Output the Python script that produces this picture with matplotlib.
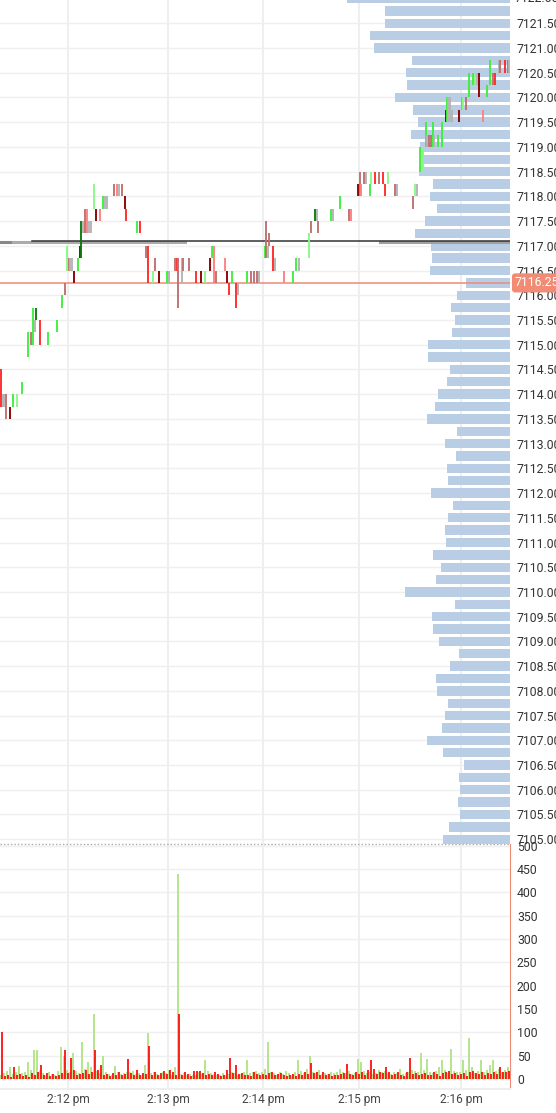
import numpy as np
import matplotlib
matplotlib.use("Agg")
import matplotlib.pyplot as plt
import matplotlib.transforms as mtransforms

plt.rcParams['font.family'] = ['Roboto', 'DejaVu Sans']

# ---- time axis (tick-sequence position) ----
time_ticks = [68, 168, 263, 359, 461]
time_labels = ['2:12 pm', '2:13 pm', '2:14 pm', '2:15 pm', '2:16 pm']
seq_max = 510

# ---- range candles: position, low, high, colour code ----
c_t = [0.8, 2.5, 3.8, 5.8, 9.7, 13.3, 16.7, 22.3, 27.5, 30.8, 33, 34.7, 36.2, 40.2, 47.8, 56.5,
       61.7, 65, 66.8, 68.5, 70, 71.7, 74, 77.8, 79.5, 81.3, 83, 85, 86.7, 89, 90.5, 94, 95.5,
       100, 103, 105, 107, 114, 116.5, 119, 121.5, 124.5, 126, 137, 140, 146, 148, 153, 155,
       158.5, 167.3, 169, 175, 176.5, 178, 181.5, 183, 188.8, 196, 201, 205, 210, 212, 213.8,
       216, 225, 226.5, 228.5, 232, 235.8, 238, 246.5, 251, 253.7, 257, 259, 264.7, 266.2,
       267.5, 268.8, 273.3, 275, 284, 293, 296, 299, 309, 311, 315, 316.5, 318, 331, 332.5,
       339.5, 349, 351, 357.7, 359.7, 361, 364, 366, 369.7, 371, 375, 379, 382.5, 384.5, 388,
       395, 397, 413, 415, 416.5, 420, 421.5, 423, 425.7, 427, 429, 431, 432.7, 434, 438,
       441.7, 445.5, 446.7, 448, 450, 452, 459.3, 461.5, 463, 466, 468.5, 473.3, 474.7, 476.7,
       479.3, 482.7, 486.5, 490, 493.3, 494.5, 498.7, 500.3, 504.7, 508, 509.3]
c_lo = [7113.75, 7113.75, 7113.75, 7113.5, 7113.5, 7113.75, 7113.75, 7114.0, 7114.75, 7115.0,
        7115.0, 7115.25, 7115.5, 7115.0, 7115.0, 7115.25, 7115.75, 7116.0, 7116.5, 7116.5,
        7116.5, 7116.5, 7116.25, 7116.5, 7116.75, 7116.75, 7117.25, 7117.25, 7117.25, 7117.25,
        7117.25, 7117.75, 7117.5, 7117.5, 7117.75, 7117.75, 7117.75, 7118.0, 7118.0, 7118.0,
        7118.0, 7117.75, 7117.5, 7117.25, 7117.25, 7116.75, 7116.25, 7116.25, 7116.5, 7116.25,
        7116.25, 7116.25, 7116.5, 7116.5, 7115.75, 7116.25, 7116.5, 7116.5, 7116.25, 7116.25,
        7116.25, 7116.5, 7116.75, 7116.25, 7116.25, 7116.5, 7116.25, 7116.0, 7116.25, 7115.75,
        7116.0, 7116.25, 7116.25, 7116.25, 7116.25, 7116.25, 7116.75, 7116.75, 7116.75, 7117.0,
        7116.5, 7116.5, 7116.25, 7116.25, 7116.5, 7116.5, 7116.75, 7117.25, 7117.5, 7117.5,
        7117.25, 7117.5, 7117.5, 7117.75, 7117.5, 7117.5, 7118.0, 7118.0, 7118.0, 7118.25,
        7118.25, 7118.0, 7118.25, 7118.25, 7118.25, 7118.25, 7118.0, 7118.25, 7118.0, 7118.0,
        7117.75, 7118.0, 7118.0, 7118.5, 7118.5, 7118.5, 7119.0, 7119.0, 7119.0, 7119.0,
        7119.0, 7119.0, 7119.0, 7119.0, 7119.5, 7119.5, 7119.5, 7119.5, 7119.5, 7119.5,
        7119.75, 7119.75, 7119.75, 7120.0, 7120.25, 7120.25, 7120.25, 7120.0, 7119.5, 7120.0,
        7120.25, 7120.25, 7120.25, 7120.5, 7120.5, 7120.5, 7120.5, 7120.5]
c_hi = [7114.5, 7114.0, 7114.0, 7114.0, 7113.75, 7114.0, 7114.0, 7114.25, 7115.25, 7115.25,
        7115.75, 7115.5, 7115.75, 7115.5, 7115.25, 7115.5, 7116.0, 7116.25, 7117.0, 7116.75,
        7116.75, 7116.75, 7116.5, 7116.75, 7117.0, 7117.5, 7117.5, 7117.75, 7117.75, 7117.5,
        7117.5, 7118.25, 7117.75, 7117.75, 7118.0, 7118.0, 7118.0, 7118.25, 7118.25, 7118.25,
        7118.25, 7118.0, 7117.75, 7117.5, 7117.5, 7117.0, 7117.0, 7116.5, 7116.75, 7116.5,
        7116.5, 7116.5, 7116.75, 7116.75, 7116.75, 7116.75, 7116.75, 7116.75, 7116.5, 7116.5,
        7116.5, 7116.75, 7117.0, 7117.0, 7116.5, 7116.75, 7116.5, 7116.25, 7116.5, 7116.25,
        7116.25, 7116.5, 7116.5, 7116.5, 7116.5, 7116.5, 7117.0, 7117.5, 7117.0, 7117.25,
        7117.0, 7116.75, 7116.5, 7116.5, 7116.75, 7116.75, 7117.25, 7117.5, 7117.75, 7117.75,
        7117.5, 7117.75, 7117.75, 7118.0, 7117.75, 7117.75, 7118.25, 7118.5, 7118.25, 7118.5,
        7118.5, 7118.25, 7118.5, 7118.5, 7118.5, 7118.5, 7118.25, 7118.5, 7118.25, 7118.25,
        7118.0, 7118.25, 7118.25, 7119.0, 7119.0, 7119.0, 7119.5, 7119.25, 7119.25, 7119.25,
        7119.5, 7119.25, 7119.25, 7119.5, 7119.75, 7120.0, 7120.0, 7120.0, 7119.75, 7119.75,
        7120.0, 7120.0, 7120.0, 7120.5, 7120.5, 7120.5, 7120.5, 7120.5, 7119.75, 7120.25,
        7120.75, 7120.5, 7120.5, 7120.75, 7120.75, 7120.75, 7120.75, 7120.75]
c_col = ['R', 'GR', 'GR', 'RO', 'DR', 'G', 'LG', 'G', 'G', 'RO', 'G', 'GR', 'DG', 'R', 'G', 'G',
         'G', 'RO', 'LG', 'RO', 'GR', 'GR', 'DR', 'G', 'DR', 'DG', 'GR', 'RO', 'LR', 'GR', 'GR',
         'LG', 'DR', 'LR', 'G', 'GR', 'GR', 'RO', 'LR', 'GR', 'RO', 'DR', 'R', 'G', 'R', 'RO',
         'R', 'LG', 'RO', 'DR', 'G', 'GR', 'RO', 'R', 'RO', 'GR', 'RO', 'RO', 'R', 'DR', 'LG',
         'DR', 'G', 'LR', 'RO', 'LR', 'DR', 'R', 'G', 'R', 'GR', 'G', 'RO', 'RO', 'RO', 'GR',
         'G', 'RO', 'GR', 'RO', 'R', 'GR', 'LR', 'G', 'G', 'GR', 'LG', 'RO', 'DG', 'GR', 'RO',
         'G', 'GR', 'G', 'RO', 'LR', 'DR', 'RO', 'LR', 'RO', 'GR', 'G', 'LG', 'R', 'RO', 'R',
         'R', 'LG', 'RO', 'GR', 'RO', 'LG', 'GR', 'G', 'LG', 'LG', 'G', 'GR', 'RO', 'RO', 'G',
         'GR', 'G', 'G', 'DR', 'G', 'GR', 'GR', 'GR', 'DR', 'G', 'LG', 'RO', 'G', 'G', 'LG',
         'GR', 'DR', 'LR', 'G', 'G', 'RO', 'R', 'GR', 'RO', 'R', 'RO', 'GR']
palette = {'G': '#3cf03c', 'LG': '#88f888', 'DG': '#0a7a0a', 'R': '#ff2a2a', 'LR': '#ff8080',
           'DR': '#8b0000', 'RO': '#bd7070', 'GR': '#b4b4b4'}

# ---- resting order sizes per price level ----
depth_price = [7122.00, 7121.75, 7121.50, 7121.25, 7121.00, 7120.75, 7120.50, 7120.25, 7120.00,
               7119.75, 7119.50, 7119.25, 7119.00, 7118.75, 7118.50, 7118.25, 7118.00, 7117.75,
               7117.50, 7117.25, 7117.00, 7116.75, 7116.50, 7116.25, 7116.00, 7115.75, 7115.50,
               7115.25, 7115.00, 7114.75, 7114.50, 7114.25, 7114.00, 7113.75, 7113.50, 7113.25,
               7113.00, 7112.75, 7112.50, 7112.25, 7112.00, 7111.75, 7111.50, 7111.25, 7111.00,
               7110.75, 7110.50, 7110.25, 7110.00, 7109.75, 7109.50, 7109.25, 7109.00, 7108.75,
               7108.50, 7108.25, 7108.00, 7107.75, 7107.50, 7107.25, 7107.00, 7106.75, 7106.50,
               7106.25, 7106.00, 7105.75, 7105.50, 7105.25, 7105.00]
depth_size = [163, 125, 125, 140, 136, 98, 104, 103, 115, 97, 92, 99, 90, 88, 91, 77, 80, 73,
              85, 95, 79, 78, 80, 44, 53, 59, 55, 58, 82, 82, 60, 63, 72, 75, 83, 53,
              65, 54, 63, 62, 79, 57, 62, 65, 64, 77, 69, 74, 105, 55, 78, 77, 71, 51,
              60, 74, 73, 62, 65, 68, 83, 67, 46, 51, 50, 52, 50, 61, 67]

last_price = 7116.25
ref_level = 7117.1

# ---- volume (buy / sell) ----
vol_buy = [8, 12, 18, 26, 10, 14, 28, 12, 15, 37, 20, 62, 63, 20, 12, 9, 15, 10, 8, 18,
           69, 50, 20, 15, 55, 18, 12, 80, 22, 37, 25, 139, 18, 12, 50, 14, 10, 8, 28, 15,
           10, 12, 15, 15, 18, 10, 12, 8, 30, 98, 12, 15, 10, 9, 14, 12, 20, 8, 25, 440,
           10, 12, 8, 10, 9, 8, 14, 10, 40, 18, 12, 10, 8, 9, 12, 8, 10, 14, 12, 8,
           10, 15, 40, 12, 15, 18, 12, 15, 22, 80, 15, 12, 8, 14, 10, 18, 12, 8, 15, 40,
           18, 12, 22, 50, 15, 12, 20, 10, 12, 10, 15, 12, 15, 22, 15, 12, 18, 10, 12, 42,
           37, 18, 12, 15, 10, 12, 20, 15, 18, 12, 10, 15, 12, 22, 10, 12, 15, 20, 18, 14,
           55, 20, 42, 15, 12, 18, 25, 40, 20, 12, 65, 18, 15, 14, 40, 20, 88, 25, 12, 18,
           40, 15, 20, 30, 40, 18, 22, 15, 20, 25]
vol_sell = [101, 6, 8, 5, 25, 8, 10, 6, 9, 5, 12, 8, 15, 30, 8, 12, 6, 10, 7, 9,
            12, 62, 12, 46, 20, 8, 10, 12, 20, 10, 14, 62, 20, 30, 8, 10, 6, 12, 9, 14,
            8, 10, 43, 12, 9, 20, 8, 12, 10, 70, 9, 14, 8, 12, 18, 10, 20, 15, 8, 140,
            9, 15, 10, 6, 18, 18, 18, 12, 8, 10, 9, 15, 10, 6, 9, 20, 44, 12, 30, 10,
            12, 8, 9, 6, 14, 10, 8, 10, 8, 12, 14, 8, 10, 12, 8, 6, 9, 10, 6, 10,
            9, 15, 10, 35, 12, 15, 8, 14, 8, 10, 6, 9, 8, 10, 12, 33, 10, 8, 14, 10,
            15, 8, 20, 40, 22, 10, 14, 12, 25, 15, 8, 10, 15, 8, 6, 14, 45, 10, 12, 8,
            10, 12, 9, 8, 14, 10, 6, 12, 15, 18, 10, 12, 8, 10, 12, 6, 15, 18, 12, 10,
            15, 8, 12, 10, 15, 10, 25, 14, 15, 18]
vol_t = np.arange(len(vol_buy)) * 3 + 1.5

# ---- figure ----
W, H = 556, 1113
fig = plt.figure(figsize=(W / 100, H / 100), dpi=100)
rect_p = [0, (H - 844) / H, 510 / W, 844 / H]
axv = fig.add_axes([0, (H - 1089) / H, 510 / W, 245 / H])
axg = fig.add_axes(rect_p)   # grid layer
axd = fig.add_axes(rect_p)   # order-book layer
ax = fig.add_axes(rect_p)    # price layer

grid_c = '#efefef'
txt_c = '#333333'
ylim_p = (7104.903, 7121.971)

# grid layer
axg.set_xlim(0, seq_max)
axg.set_ylim(*ylim_p)
for p in np.arange(7105, 7122, 0.5):
    axg.axhline(p, color=grid_c, lw=1.0)
for t in time_ticks:
    axg.axvline(t, color=grid_c, lw=1.5)
axg.axhline(ylim_p[0], color='#aaaaaa', lw=1, ls=(0, (1, 1.5)), clip_on=False)
axg.axis('off')

# order book layer
axd.set_xlim(seq_max, 0)
axd.set_ylim(*ylim_p)
axd.barh(depth_price, depth_size, height=0.19, color='#b9cde5')
axd.axis('off')

# price layer
ax.patch.set_visible(False)
ax.set_xlim(0, seq_max)
ax.set_ylim(*ylim_p)
ax.plot([0, 13], [ref_level - 0.02] * 2, color='#888888', lw=2.2, zorder=2)
ax.plot([13, 185], [ref_level - 0.02] * 2, color='#aaaaaa', lw=2.2, zorder=2)
ax.plot([380, seq_max], [ref_level - 0.02] * 2, color='#a0a0a0', lw=2.2, zorder=2)
ax.plot([32, seq_max], [ref_level] * 2, color='#333333', lw=1.1, zorder=3)
ax.axhline(last_price, color='#ef8a74', lw=1.1, zorder=3)
ax.vlines(c_t, c_lo, c_hi, colors=[palette[c] for c in c_col], lw=1.35, zorder=4)

ax.yaxis.tick_right()
ax.set_yticks(np.arange(7105, 7121.6, 0.5))
ax.set_yticklabels([f'{p:.2f}' for p in np.arange(7105, 7121.6, 0.5)])
ax.tick_params(axis='y', length=0, pad=5, labelsize=8.8, labelcolor=txt_c)
ax.set_xticks([])
for s in ax.spines.values():
    s.set_visible(False)

blend = mtransforms.blended_transform_factory(ax.transAxes, ax.transData)
ax.text(1.0 + 5 / 510, 7122.0, '7122.00', transform=blend,
        ha='left', va='center', fontsize=8.8, color=txt_c, clip_on=False)
ax.text(1.0 + 5 / 510, last_price, f'{last_price:.2f}', transform=blend,
        ha='left', va='center', fontsize=8.8, color='white', clip_on=False, zorder=10,
        bbox=dict(boxstyle='round,pad=0.25', fc='#f28b74', ec='none'))

# volume panel
axv.set_xlim(0, seq_max)
axv.set_ylim(-21.5, 504)
for v in range(0, 501, 50):
    axv.axhline(v, color=grid_c, lw=1.0, zorder=0)
for t in time_ticks:
    axv.axvline(t, color=grid_c, lw=1.5, zorder=0)
axv.bar(vol_t - 0.5, vol_buy, width=2.6, color='#b7e58d', zorder=2)
axv.bar(vol_t + 0.7, vol_sell, width=1.8, color='#ff0000', alpha=0.85, zorder=3)

axv.yaxis.tick_right()
axv.set_yticks(range(0, 501, 50))
axv.tick_params(axis='y', length=0, pad=5, labelsize=8.8, labelcolor=txt_c)
axv.set_xticks(time_ticks)
axv.set_xticklabels(time_labels)
axv.tick_params(axis='x', length=0, pad=3, labelsize=8.6, labelcolor='#444444')
axv.spines['top'].set_visible(False)
axv.spines['left'].set_visible(False)
axv.spines['right'].set_color('#ef8a74')
axv.spines['bottom'].set_color('#eeeeee')
axv.spines['bottom'].set_linewidth(1.5)

fig.savefig('out.png', dpi=100)
